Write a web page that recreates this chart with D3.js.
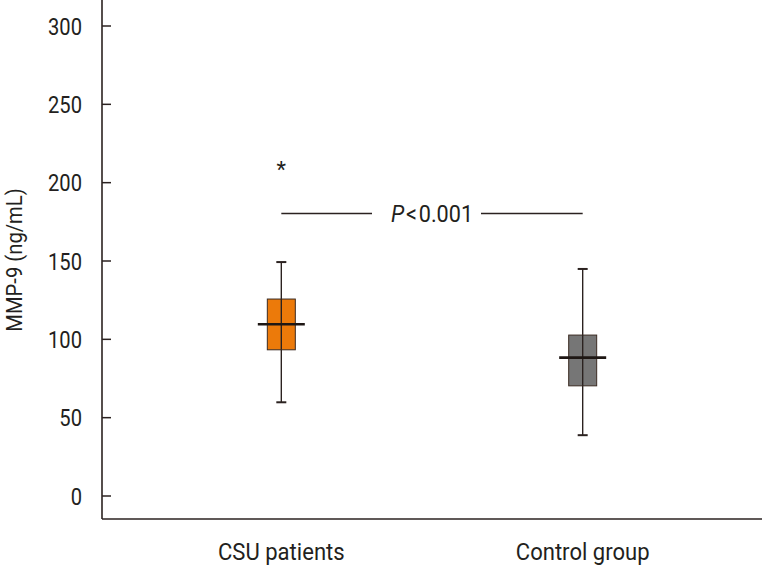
<!DOCTYPE html>
<html><head><meta charset="utf-8">
<script src="https://cdn.jsdelivr.net/npm/d3@7"></script>
<style>
body{margin:0;background:#fff;}
text{font-family:"Roboto","Liberation Sans",sans-serif;fill:#231f20;}
</style></head><body>
<svg id="c" width="762" height="566"></svg>
<script>
const categories = ["CSU patients", "Control group"];
const whiskerLow = [59.5, 38.5];
const boxLow = [93, 70];
const medians = [109.3, 88];
const boxHigh = [125.4, 102.4];
const whiskerHigh = [149, 144.6];
const colors = ["#ec7a0a", "#767676"];
const yTicks = [0, 50, 100, 150, 200, 250, 300];
const outlierValue = 211;
const sigValue = 180;
const sigLabel = "<0.001";

const svg = d3.select("#c");
const y = d3.scaleLinear().domain([0, 300]).range([495.5, 25.5]);
const x = d3.scalePoint().domain(categories).range([102, 762]).padding(0.595);
const bottom = 519, left = 102;
const ink = "#2b2220";

// helper for condensed text
function ctext(parent, px, py, sx, size, anchor, str, rot) {
  const g = parent.append("g").attr("transform", `translate(${px},${py})${rot ? " rotate(" + rot + ")" : ""} scale(${sx},1)`);
  return g.append("text").attr("text-anchor", anchor).style("font-size", size + "px").text(str);
}

// axes
const yAxis = d3.axisRight(y).tickValues(yTicks).tickSize(9).tickFormat(d3.format("d"));
const gy = svg.append("g").attr("transform", `translate(${left},0)`).call(yAxis);
gy.select(".domain").remove();
gy.selectAll(".tick line").attr("stroke", ink).attr("stroke-width", 1.5);
gy.selectAll(".tick text").attr("x", -20 / 0.84).attr("text-anchor", "end").attr("dy", "0.36em")
  .attr("transform", "scale(0.84,1)")
  .style("font-size", "24px").attr("fill", "#231f20");
svg.append("line").attr("x1", left).attr("x2", left).attr("y1", 0).attr("y2", bottom)
  .attr("stroke", ink).attr("stroke-width", 1.6);
svg.append("line").attr("x1", left).attr("x2", 762).attr("y1", bottom).attr("y2", bottom)
  .attr("stroke", ink).attr("stroke-width", 1.6);

categories.forEach(c => ctext(svg, x(c), 560, 0.92, 24, "middle", c));

ctext(svg, 22, 260, 0.92, 22, "middle", "MMP-9 (ng/mL)", -90);

// boxes
const g = svg.append("g");
categories.forEach((c, i) => {
  const cx = x(c);
  g.append("line").attr("x1", cx).attr("x2", cx).attr("y1", y(whiskerLow[i])).attr("y2", y(whiskerHigh[i]))
    .attr("stroke", ink).attr("stroke-width", 1.4);
  g.append("rect").attr("x", cx - 14).attr("width", 28)
    .attr("y", y(boxHigh[i])).attr("height", y(boxLow[i]) - y(boxHigh[i]))
    .attr("fill", colors[i]).attr("stroke", "#3a2a22").attr("stroke-width", 1);
  g.append("line").attr("x1", cx).attr("x2", cx).attr("y1", y(boxLow[i])).attr("y2", y(boxHigh[i]))
    .attr("stroke", ink).attr("stroke-width", 1.4);
  [whiskerLow[i], whiskerHigh[i]].forEach(v => {
    g.append("line").attr("x1", cx - 5).attr("x2", cx + 5).attr("y1", y(v)).attr("y2", y(v))
      .attr("stroke", ink).attr("stroke-width", 2);
  });
  g.append("line").attr("x1", cx - 23.5).attr("x2", cx + 23.5).attr("y1", y(medians[i])).attr("y2", y(medians[i]))
    .attr("stroke", "#1e1714").attr("stroke-width", 2.6);
});

// outlier asterisk
svg.append("text").attr("x", x(categories[0])).attr("y", y(outlierValue)).attr("dy", "0.55em")
  .attr("text-anchor", "middle").style("font-size", "22px").text("*");

// significance
const sy = y(sigValue);
svg.append("line").attr("x1", x(categories[0])).attr("x2", 372).attr("y1", sy).attr("y2", sy)
  .attr("stroke", ink).attr("stroke-width", 1.3);
svg.append("line").attr("x1", 481).attr("x2", x(categories[1])).attr("y1", sy).attr("y2", sy)
  .attr("stroke", ink).attr("stroke-width", 1.3);
const t = ctext(svg, 432, sy + 8.5, 0.9, 24, "middle", "");
t.append("tspan").style("font-style", "italic").text("P");
t.append("tspan").attr("dx", 2).text(sigLabel.slice(0, 1));
t.append("tspan").attr("dx", 2).text(sigLabel.slice(1));
</script></body></html>
